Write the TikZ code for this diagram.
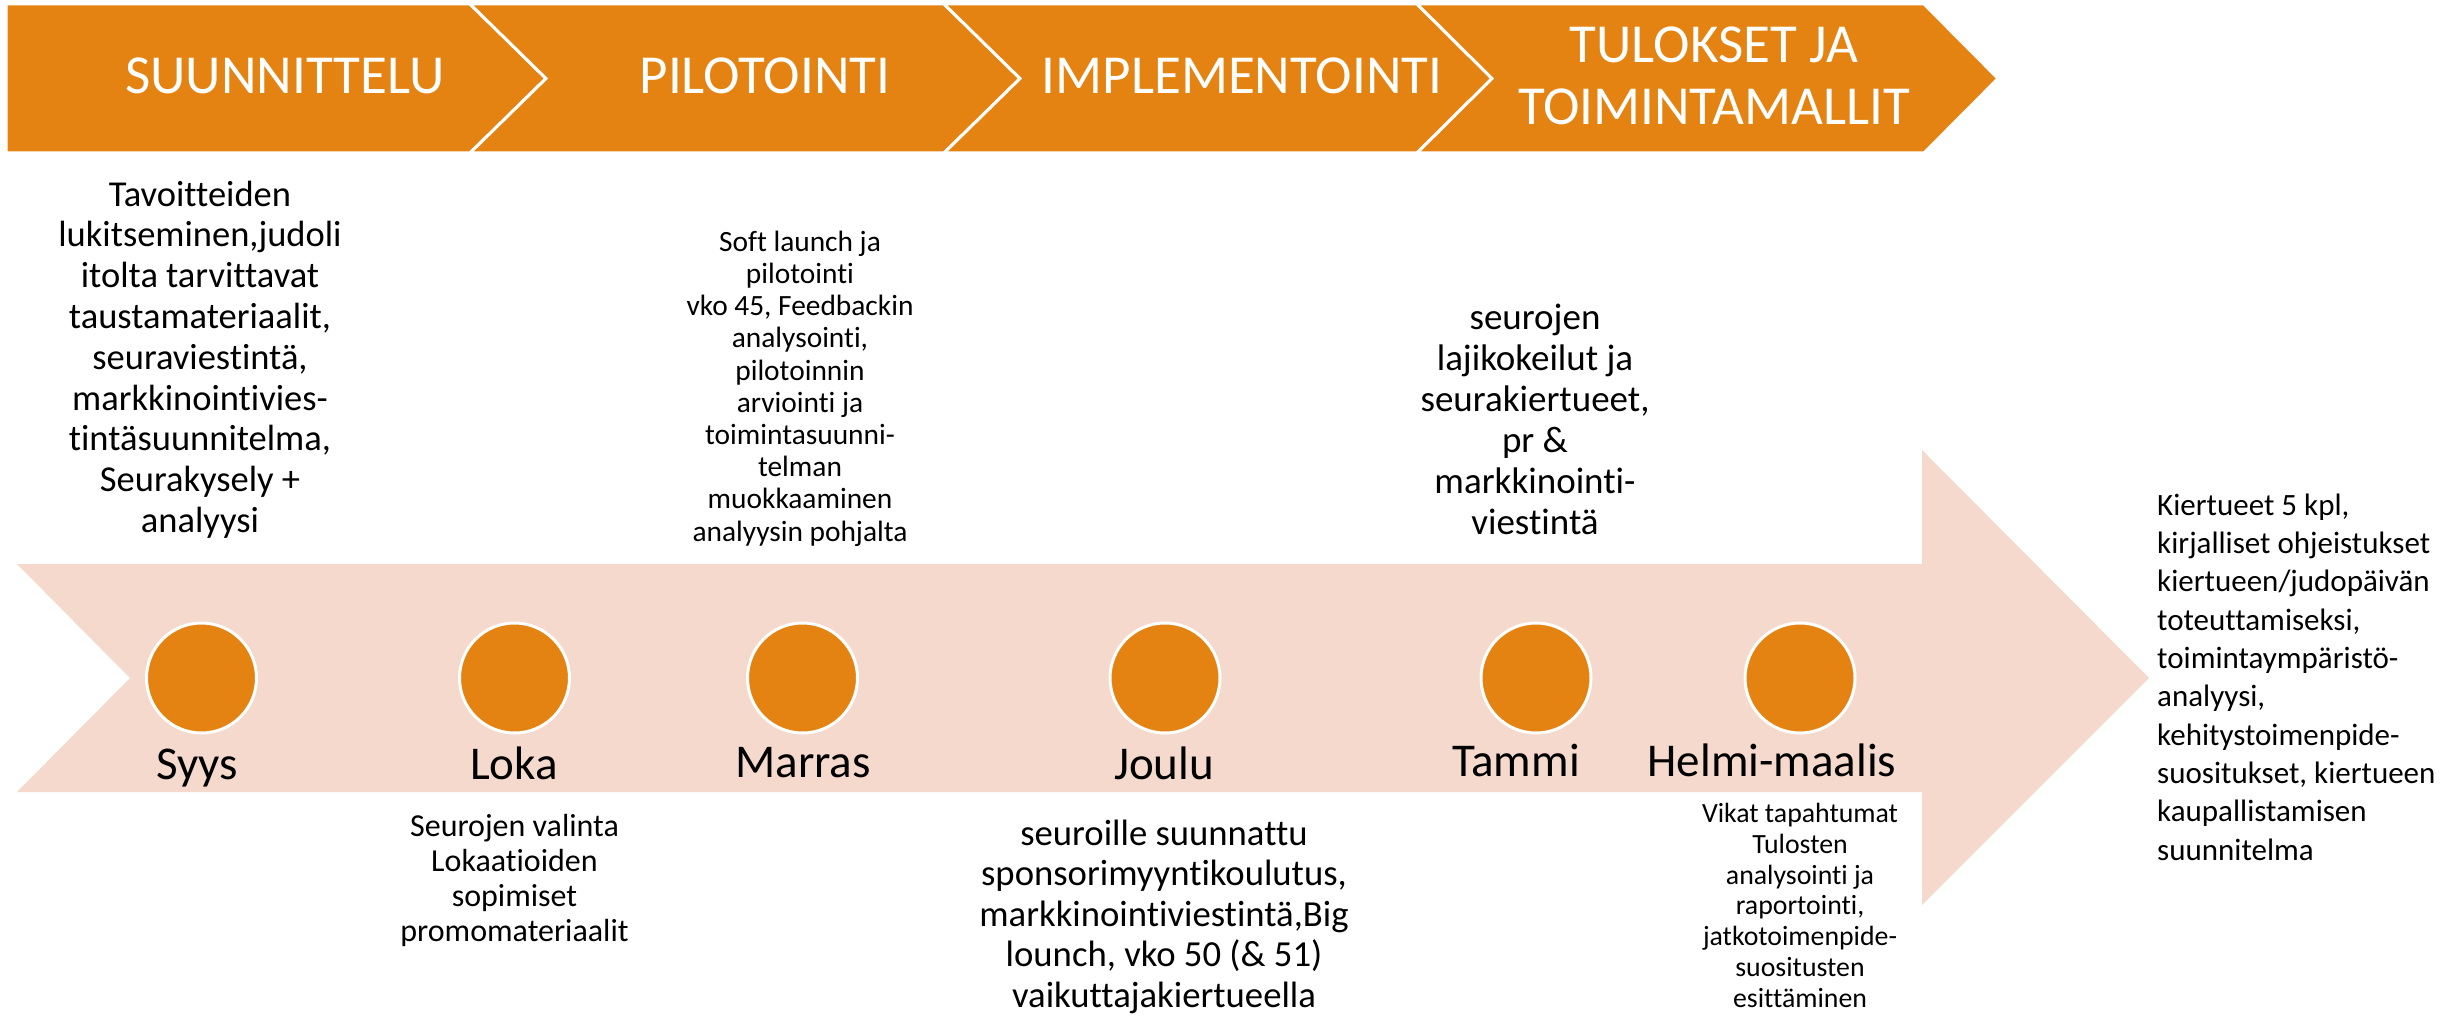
\documentclass[tikz,border=0pt]{standalone}
\usepackage{fontspec}
\setmainfont{Carlito}[Ligatures=NoCommon]
\definecolor{chev}{RGB}{228,131,18}
\definecolor{band}{RGB}{244,217,204}
\begin{document}
\begin{tikzpicture}[x=1pt,y=-1pt,
  chevron/.style={fill=chev,draw=white,line width=3pt,line join=miter},
  dot/.style={circle,fill=chev,draw=white,line width=3pt,minimum size=110pt,inner sep=0pt},
  title/.style={text=white,inner sep=0pt,anchor=base,align=center,font=\fontsize{55}{62}\selectfont},
  month/.style={inner sep=0pt,anchor=base,font=\fontsize{47}{56}\selectfont},
  blk/.style={inner sep=0pt,anchor=base,align=center}]
\useasboundingbox (0,0) rectangle (2448,1019);
% top chevrons
\path[chevron] (6,4) -- (470,4) -- (546,78.5) -- (470,153) -- (6,153) -- cycle;
\path[chevron] (470,4) -- (944,4) -- (1020,78.5) -- (944,153) -- (470,153) -- (546,78.5) -- cycle;
\path[chevron] (944,4) -- (1417,4) -- (1492,78.5) -- (1417,153) -- (944,153) -- (1020,78.5) -- cycle;
\path[chevron] (1417,4) -- (1924,4) -- (1998,78.5) -- (1924,153) -- (1417,153) -- (1492,78.5) -- cycle;
\node[title] (t1) at (285,94) {SUUNNITTELU};
\node[title] (t2) at (765,94) {PILOTOINTI};
\node[title] (t3) at (1242,94) {IMPLEMENTOINTI};
\node[title] (t4) at (1714,125) {TULOKSET JA\\TOIMINTAMALLIT};
% timeline arrow
\fill[band] (17,564) -- (1922,564) -- (1922,450) -- (2149,678) -- (1922,905) -- (1922,792) -- (17,792) -- (130,678) -- cycle;
\node[dot] (d1) at (201.5,678) {};
\node[dot] (d2) at (514.5,678) {};
\node[dot] (d3) at (802.5,678) {};
\node[dot] (d4) at (1165,678) {};
\node[dot] (d5) at (1536,678) {};
\node[dot] (d6) at (1800,678) {};
\node[month] (m1) at (197,779) {Syys};
\node[month] (m2) at (514,779) {Loka};
\node[month] (m3) at (803,777) {Marras};
\node[month] (m4) at (1164,779) {Joulu};
\node[month] (m5) at (1516,776) {Tammi};
\node[month] (m6) at (1772,776) {Helmi-maalis};
% text blocks (base anchor = baseline of last line)
\node[blk,font=\fontsize{36.5}{40.8}\selectfont] (a) at (200,532.5)
 {Tavoitteiden\\lukitseminen,judoli\\itolta tarvittavat\\taustamateriaalit,\\seuraviestintä,\\markkinointivies-\\tintäsuunnitelma,\\Seurakysely +\\analyysi};
\node[blk,font=\fontsize{29.4}{32.2}\selectfont] (b) at (800,541)
 {Soft launch ja\\pilotointi\\vko 45, Feedbackin\\analysointi,\\pilotoinnin\\arviointi ja\\toimintasuunni-\\telman\\muokkaaminen\\analyysin pohjalta};
\node[blk,font=\fontsize{37}{41}\selectfont] (c) at (1535,534)
 {seurojen\\lajikokeilut ja\\seurakiertueet,\\pr \&\\markkinointi-\\viestintä};
\node[blk,font=\fontsize{32}{35}\selectfont] (dd) at (514.5,941)
 {Seurojen valinta\\Lokaatioiden\\sopimiset\\promomateriaalit};
\node[blk,font=\fontsize{36.7}{40.6}\selectfont] (e) at (1164,1007.5)
 {seuroille suunnattu\\sponsorimyyntikoulutus,\\markkinointiviestintä,Big\\lounch, vko 50 (\& 51)\\vaikuttajakiertueella};
\node[blk,font=\fontsize{27.8}{30.7}\selectfont] (f) at (1800,1007)
 {Vikat tapahtumat\\Tulosten\\analysointi ja\\raportointi,\\jatkotoimenpide-\\suositusten\\esittäminen};
\node[inner sep=0pt,anchor=base west,align=left,font=\fontsize{31}{38.3}\selectfont] (g) at (2157,860)
 {Kiertueet 5 kpl,\\kirjalliset ohjeistukset\\kiertueen/judopäivän\\toteuttamiseksi,\\toimintaympäristö-\\analyysi,\\kehitystoimenpide-\\suositukset, kiertueen\\kaupallistamisen\\suunnitelma};
\end{tikzpicture}
\end{document}
